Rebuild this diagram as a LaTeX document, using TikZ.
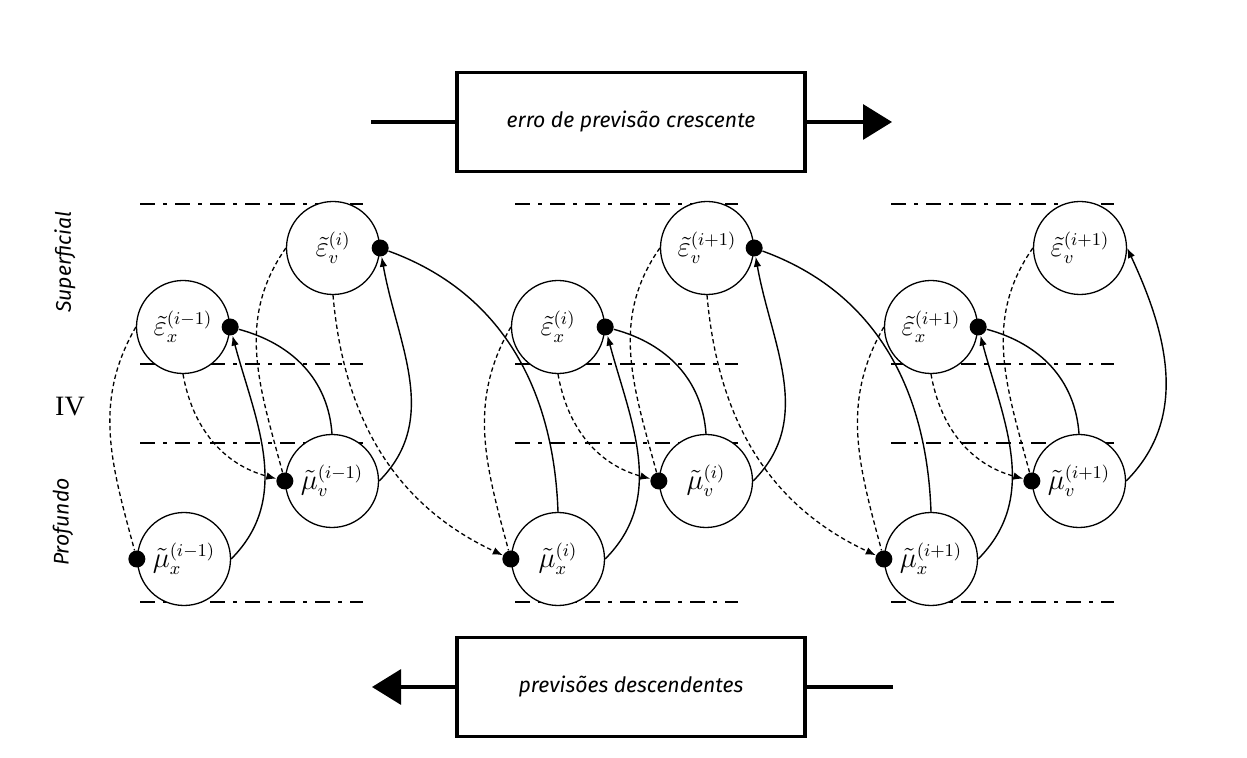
\documentclass[tikz,border=0pt]{standalone}
\usepackage{amsmath}
\usepackage{fontspec}
\setmainfont{Liberation Serif}
\setsansfont{Fira Sans}
\usetikzlibrary{arrows.meta}

\tikzset{
  state/.style={draw, circle, fill=white, minimum size=46.5pt, inner sep=0pt, line width=0.65pt, font=\fontsize{13.5}{16}\selectfont},
  blob/.style={fill, circle, minimum size=8.5pt, inner sep=0pt},
  fwd/.style={line width=0.7pt},
  bwd/.style={line width=0.65pt, dash pattern=on 2.2pt off 1.5pt},
  tip/.style={-{Latex[length=5pt,width=3.8pt]}},
  layer/.style={line width=0.7pt, dash pattern=on 7.5pt off 4pt on 2pt off 4pt},
  flowbox/.style={draw, line width=1.6pt, minimum width=174pt, minimum height=49.5pt, inner sep=0pt, font=\sffamily\itshape\fontsize{10.6}{12}\selectfont},
  flow/.style={line width=1.6pt},
  bigtip/.style={-{Triangle[length=14.5pt,width=17.5pt]}},
  side/.style={rotate=90, font=\sffamily\itshape\fontsize{10.6}{12}\selectfont}
}

\begin{document}
\begin{tikzpicture}[x=0.5pt,y=0.5pt]
\useasboundingbox (0,0) rectangle (1247,-758);

% layer boundaries
\draw[layer] (140,-204) -- (363,-204);
\draw[layer] (140,-364) -- (363,-364);
\draw[layer] (140,-443) -- (363,-443);
\draw[layer] (140,-602) -- (363,-602);
\draw[layer] (515,-204) -- (738,-204);
\draw[layer] (515,-364) -- (738,-364);
\draw[layer] (515,-443) -- (738,-443);
\draw[layer] (515,-602) -- (738,-602);
\draw[layer] (891,-204) -- (1114,-204);
\draw[layer] (891,-364) -- (1114,-364);
\draw[layer] (891,-443) -- (1114,-443);
\draw[layer] (891,-602) -- (1114,-602);

\node[side] (sup) at (65,-262) {Superficial};
\node[side] (prof) at (63,-522) {Profundo};
\node[font=\fontsize{14}{16}\selectfont] (iv) at (70,-407) {IV};

% units
\node[state] (ex1) at (183,-327) {$\tilde{\varepsilon}_x^{(i-1)}$};
\node[state] (ev1) at (333,-248) {$\tilde{\varepsilon}_v^{(i)}$};
\node[state] (mv1) at (332,-481) {$\tilde{\mu}_v^{(i-1)}$};
\node[state] (mx1) at (184,-559) {$\tilde{\mu}_x^{(i-1)}$};
\node[state] (ex2) at (558,-327) {$\tilde{\varepsilon}_x^{(i)}$};
\node[state] (ev2) at (707,-248) {$\tilde{\varepsilon}_v^{(i+1)}$};
\node[state] (mv2) at (706,-481) {$\tilde{\mu}_v^{(i)}$};
\node[state] (mx2) at (558,-559) {$\tilde{\mu}_x^{(i)}$};
\node[state] (ex3) at (931,-327) {$\tilde{\varepsilon}_x^{(i+1)}$};
\node[state] (ev3) at (1080,-248) {$\tilde{\varepsilon}_v^{(i+1)}$};
\node[state] (mv3) at (1079,-481) {$\tilde{\mu}_v^{(i+1)}$};
\node[state] (mx3) at (931,-559) {$\tilde{\mu}_x^{(i+1)}$};

% dots
\node[blob] (ex1d) at (ex1.east) {};
\node[blob] (ev1d) at (ev1.east) {};
\node[blob] (mv1d) at (mv1.west) {};
\node[blob] (mx1d) at (mx1.west) {};
\node[blob] (ex2d) at (ex2.east) {};
\node[blob] (ev2d) at (ev2.east) {};
\node[blob] (mv2d) at (mv2.west) {};
\node[blob] (mx2d) at (mx2.west) {};
\node[blob] (ex3d) at (ex3.east) {};
\node[blob] (mv3d) at (mv3.west) {};
\node[blob] (mx3d) at (mx3.west) {};

% descending (dashed)
\draw[bwd] (ex1.west) to[out=240,in=105] (mx1d);
\draw[bwd,tip] (ex1.south) to[out=-80,in=165] (mv1d);
\draw[bwd] (ev1.west) to[out=235,in=105] (mv1d);
\draw[bwd,tip] (ev1.south) to[out=-85,in=155] (mx2d);
\draw[bwd] (ex2.west) to[out=240,in=105] (mx2d);
\draw[bwd,tip] (ex2.south) to[out=-80,in=165] (mv2d);
\draw[bwd] (ev2.west) to[out=235,in=105] (mv2d);
\draw[bwd,tip] (ev2.south) to[out=-85,in=155] (mx3d);
\draw[bwd] (ex3.west) to[out=240,in=105] (mx3d);
\draw[bwd,tip] (ex3.south) to[out=-80,in=165] (mv3d);
\draw[bwd] (ev3.west) to[out=235,in=105] (mv3d);

% ascending (solid)
\draw[fwd,tip] (mx1.east) to[out=45,in=-75] (ex1d);
\draw[fwd] (mv1.north) to[out=94,in=-15] (ex1d);
\draw[fwd,tip] (mv1.east) to[out=45,in=-80] (ev1d);
\draw[fwd] (mx2.north) to[out=92,in=-20] (ev1d);
\draw[fwd,tip] (mx2.east) to[out=45,in=-75] (ex2d);
\draw[fwd] (mv2.north) to[out=94,in=-15] (ex2d);
\draw[fwd,tip] (mv2.east) to[out=45,in=-80] (ev2d);
\draw[fwd] (mx3.north) to[out=92,in=-20] (ev2d);
\draw[fwd,tip] (mx3.east) to[out=45,in=-75] (ex3d);
\draw[fwd] (mv3.north) to[out=94,in=-15] (ex3d);
\draw[fwd,tip] (mv3.east) to[out=45,in=-65] (ev3.east);

% flow boxes
\node[flowbox] (up) at (631,-122) {erro de previsão crescente};
\node[flowbox] (down) at (631,-687) {previsões descendentes};
\coordinate (upin) at (371,-122);
\coordinate (upout) at (892,-122);
\coordinate (downin) at (893,-687);
\coordinate (downout) at (372,-687);
\draw[flow] (upin) -- (up);
\draw[flow,bigtip] (up) -- (upout);
\draw[flow] (downin) -- (down);
\draw[flow,bigtip] (down) -- (downout);
\end{tikzpicture}
\end{document}
